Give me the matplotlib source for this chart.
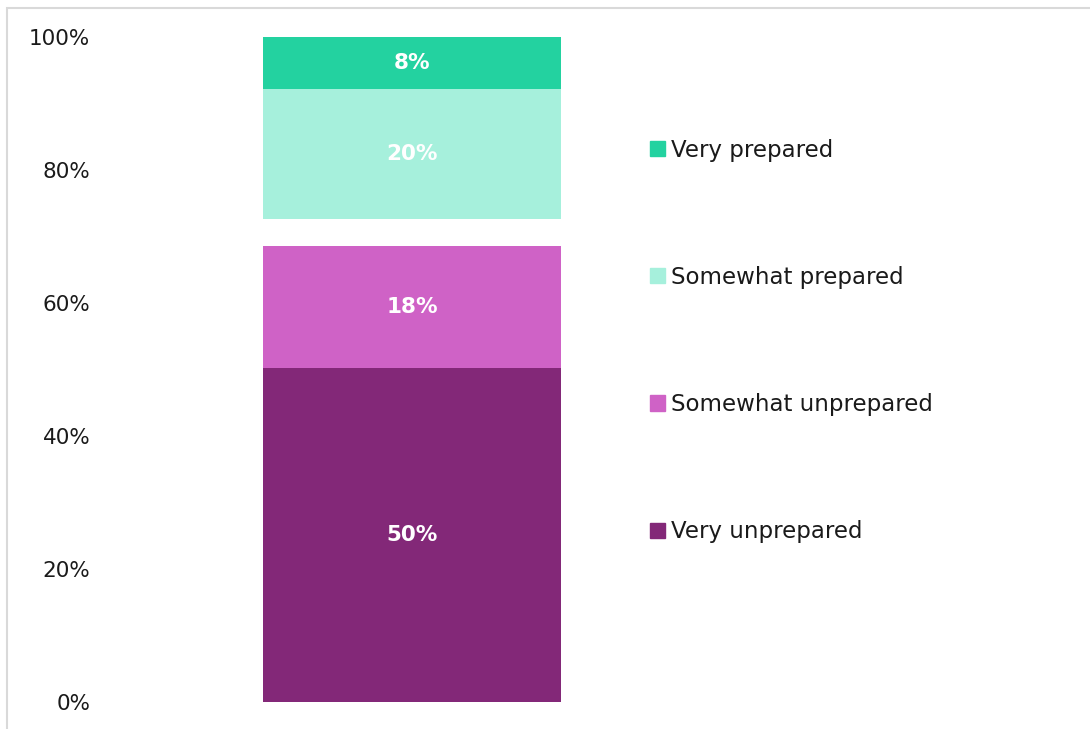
import matplotlib.pyplot as plt
from matplotlib.patches import Rectangle, Patch

categories = ['']
labels = ['Very unprepared', 'Somewhat unprepared', 'Other', 'Somewhat prepared', 'Very prepared']
values = [50.2, 18.4, 4.0, 19.6, 7.8]
value_text = ['50%', '18%', '', '20%', '8%']
colors = ['#832878', '#CF62C6', 'none', '#A6F0DC', '#23D2A0']
show = [True, True, False, True, True]

plt.rcParams['font.family'] = ['DejaVu Sans']

fig = plt.figure(figsize=(10.9, 7.29), dpi=100)
ax = fig.add_axes([100 / 1090, 27 / 729, 624 / 1090, 665 / 729])

bottom = 0
for lab, v, txt, c, s in zip(labels, values, value_text, colors, show):
    bars = ax.bar(categories, [v], bottom=bottom, width=0.478, color=c, edgecolor='none')
    if s:
        ax.bar_label(bars, labels=[txt], label_type='center',
                     color='white', fontsize=15.5, fontweight='bold')
    bottom += v

ax.set_xlim(-0.5, 0.5)
ax.set_ylim(0, 100)
ax.set_yticks(range(0, 101, 20))
ax.set_yticklabels(['{}%'.format(t) for t in range(0, 101, 20)])
ax.tick_params(axis='y', length=0, pad=7, labelsize=15.5, labelcolor='#1a1a1a')
ax.set_xticks([])
for sp in ax.spines.values():
    sp.set_visible(False)

handles = [Patch(color=c, label=l) for l, c, s in zip(labels, colors, show) if s][::-1]
fig.legend(handles=handles, loc='center left', bbox_to_anchor=(629 / 1090, 1 - 341 / 729),
           frameon=False, fontsize=16.5, labelspacing=4.55, handlelength=0.65,
           handleheight=0.65, handletextpad=0.3, labelcolor='#1a1a1a')

fig.patches.append(Rectangle((7 / 1090, -0.1), 1.2, 1 - 8 / 729 + 0.1, transform=fig.transFigure,
                             fill=False, edgecolor='#d9d9d9', linewidth=1.5))

fig.savefig('out.png', dpi=100)
